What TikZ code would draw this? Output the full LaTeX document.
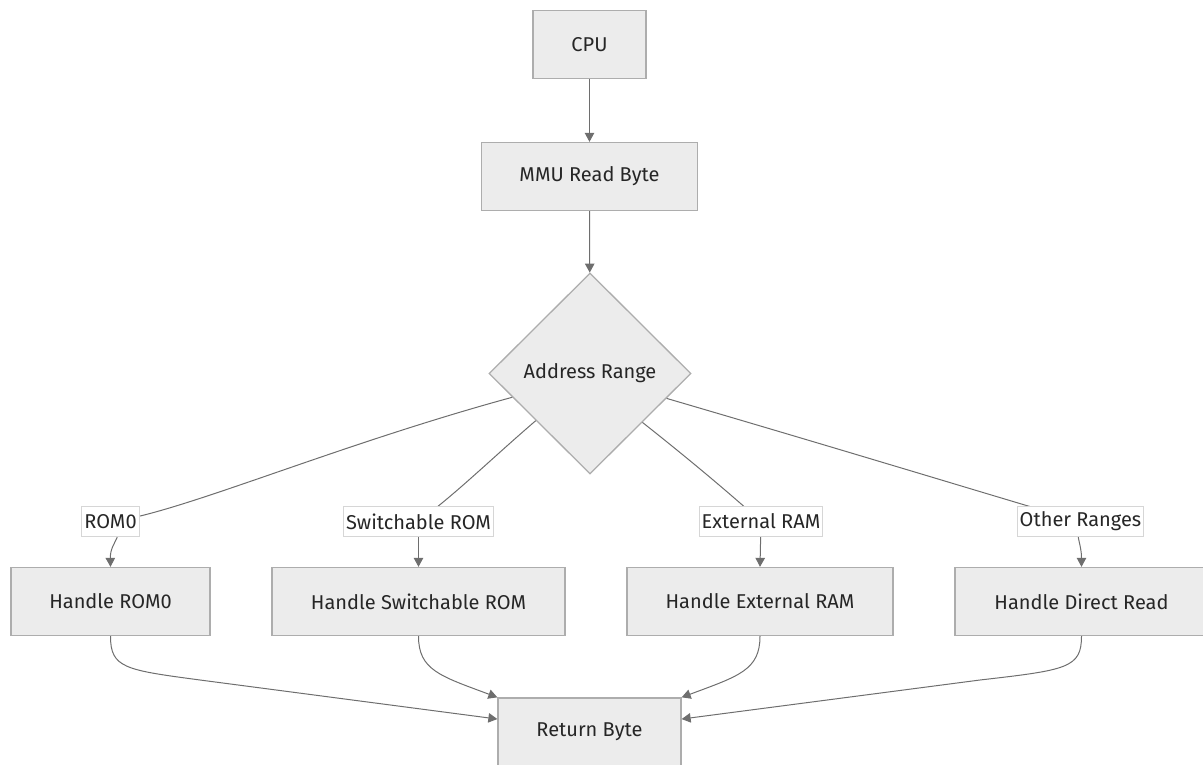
\documentclass[tikz,border=0pt]{standalone}
\usepackage{fontspec}
\setmainfont{Fira Sans}
\usetikzlibrary{shapes.geometric,arrows.meta}
\definecolor{boxfill}{HTML}{ECECEC}
\definecolor{boxline}{HTML}{ADADAD}
\definecolor{edgecol}{HTML}{6E6E6E}
\definecolor{txtcol}{HTML}{262626}
\definecolor{labline}{HTML}{D6D6D6}
\tikzset{
  procbox/.style={draw=boxline, line width=1.3pt, fill=boxfill, text=txtcol, minimum height=68pt, inner sep=0pt, font=\fontsize{20}{24}\selectfont},
  decbox/.style={diamond, aspect=1, draw=boxline, line width=1.3pt, fill=boxfill, text=txtcol, minimum width=202pt, minimum height=201pt, inner sep=0pt, font=\fontsize{20}{24}\selectfont},
  edgelab/.style={draw=labline, line width=0.7pt, fill=white, text=txtcol, inner xsep=2.5pt, inner ysep=0pt, minimum height=29.5pt, font=\fontsize{20}{24}\selectfont},
  link/.style={draw=edgecol, line width=1pt},
  arrowlink/.style={link, -{Triangle[length=9pt,width=9.5pt]}},
}
\begin{document}
\begin{tikzpicture}[x=1pt,y=-1pt]
\useasboundingbox (0,0) rectangle (1203,765);
% nodes
\node[procbox, minimum width=113pt] (cpu) at (589.5,44.5) {CPU};
\node[procbox, minimum width=216pt] (mmu) at (589.5,176.5) {MMU Read Byte};
\node[decbox] (dia) at (590,373.5) {Address Range};
\node[procbox, minimum width=199pt] (h0) at (110.5,601.5) {Handle ROM0};
\node[procbox, minimum width=293pt] (hs) at (418.5,601.5) {Handle Switchable ROM};
\node[procbox, minimum width=266pt] (he) at (760,601.5) {Handle External RAM};
\node[procbox, minimum width=253pt] (hd) at (1081.5,601.5) {Handle Direct Read};
\node[procbox, minimum width=183pt] (rb) at (589.5,732) {Return Byte};

% edges
\draw[arrowlink] (cpu) -- (mmu);
\draw[arrowlink] (mmu) -- (dia);

\draw[link] (dia.197) .. controls (330,447) and (175,515) .. (110.5,521.5);
\draw[arrowlink] (110.5,521.5) .. controls (128,535) and (110,540) .. (h0.north);
\draw[link] (dia.221.7) .. controls (490,460) and (458,492) .. (418.5,521.5);
\draw[arrowlink] (418.5,521.5) -- (h0.north -| hs.north);
\draw[link] (dia.317.8) .. controls (690,460) and (728,492) .. (761,521.5);
\draw[arrowlink] (761,521.5) -- (he.north);
\draw[link] (dia.342.9) .. controls (860,455) and (1000,498) .. (1080.5,521.5);
\draw[arrowlink] (1080.5,521.5) .. controls (1074,535) and (1081.5,542) .. (hd.north);

\draw[arrowlink] (h0.south) .. controls (110.5,668) and (125,670) .. (200,680) -- (rb.172);
\draw[arrowlink] (hs.south) .. controls (418.5,670) and (440,676) .. (rb.north west);
\draw[arrowlink] (he.south) .. controls (760,670) and (739,676) .. (rb.north east);
\draw[arrowlink] (hd.south) .. controls (1081.5,668) and (1067,670) .. (980,680) -- (rb.8);

% edge labels on top
\node[edgelab] (l0) at (110.5,521.5) {ROM0};
\node[edgelab] (ls) at (418.5,521.5) {Switchable ROM};
\node[edgelab] (le) at (761,521.5) {External RAM};
\node[edgelab] (ld) at (1080.5,521.5) {Other Ranges};
\end{tikzpicture}
\end{document}
